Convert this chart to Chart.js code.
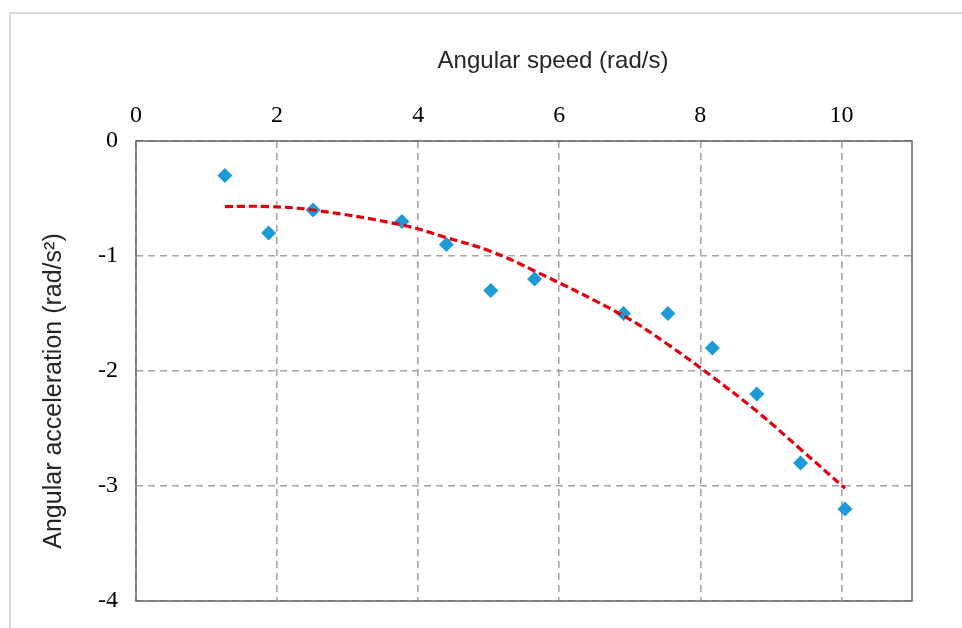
<!DOCTYPE html>
<html>
<head>
<meta charset="utf-8">
<script src="https://cdn.jsdelivr.net/npm/chart.js@4.4.1/dist/chart.umd.min.js"></script>
<style>
    html, body { margin: 0; padding: 0; background: #fff; }
</style>
</head>
<body>
<canvas id="accelChart" width="962" height="628"></canvas>
<script>
// values
const speedValues = [1.26, 1.88, 2.51, 3.77, 4.40, 5.03, 5.65, 6.91, 7.54, 8.17, 8.80, 9.42, 10.05];
const accelValues = [-0.3, -0.8, -0.6, -0.7, -0.9, -1.3, -1.2, -1.5, -1.5, -1.8, -2.2, -2.8, -3.2];
// red dashed trend line, read at the same speeds
const trendValues = [-0.57, -0.57, -0.60, -0.73, -0.84, -0.96, -1.13, -1.52, -1.77, -2.05, -2.35, -2.68, -3.02];

const xTicks = [0, 2, 4, 6, 8, 10];
const yTicks = [0, -1, -2, -3, -4];

const xTitle = 'Angular speed (rad/s)';
const yTitle = 'Angular acceleration (rad/s²)';

const gridColor = '#a6a6a6';
const tickFont = { family: 'Liberation Serif', size: 24 };

const framePlugin = {
    id: 'frame',
    beforeDraw(chart) {
        const ctx = chart.ctx;
        ctx.save();
        ctx.fillStyle = '#fff';
        ctx.fillRect(0, 0, chart.width, chart.height);
        // outer chart border (only top and left are visible)
        ctx.strokeStyle = '#d9d9d9';
        ctx.lineWidth = 2;
        ctx.beginPath();
        ctx.moveTo(10, chart.height);
        ctx.lineTo(10, 13);
        ctx.lineTo(chart.width, 13);
        ctx.stroke();
        ctx.restore();
    },
    beforeDatasetsDraw(chart) {
        const { left, top, right, bottom } = chart.chartArea;
        const ctx = chart.ctx;
        ctx.save();
        ctx.strokeStyle = '#666';
        ctx.lineWidth = 1.5;
        ctx.strokeRect(left, top, right - left, bottom - top);
        ctx.restore();
    },
    afterDraw(chart) {
        const ctx = chart.ctx;
        ctx.save();
        ctx.fillStyle = '#262626';
        ctx.textAlign = 'center';
        ctx.textBaseline = 'alphabetic';
        ctx.font = '24px "Liberation Sans"';
        ctx.fillText(xTitle, 553, 68);
        ctx.font = '25px "Liberation Sans"';
        ctx.translate(61, 391);
        ctx.rotate(-Math.PI / 2);
        ctx.fillText(yTitle, 0, 0);
        ctx.restore();
    }
};

function noEdgePadding(scale) {
    scale.paddingTop = 0;
    scale.paddingBottom = 0;
    scale.paddingLeft = 0;
    scale.paddingRight = 0;
}

function initializeChart() {
    const ctx = document.getElementById('accelChart').getContext('2d');

    new Chart(ctx, {
        type: 'scatter',
        data: {
            datasets: [{
                label: 'Trend',
                data: speedValues.map((s, i) => ({ x: s, y: trendValues[i] })),
                showLine: true,
                borderColor: '#e2000f',
                borderWidth: 3.2,
                borderDash: [8, 4],
                pointRadius: 0,
                tension: 0.4,
                fill: false,
                order: 0
            }, {
                label: 'Measured',
                data: speedValues.map((s, i) => ({ x: s, y: accelValues[i] })),
                pointStyle: 'rectRot',
                pointRadius: 7.5,
                pointBorderWidth: 0,
                backgroundColor: '#1b9bd7',
                borderColor: '#1b9bd7',
                order: 1
            }]
        },
        options: {
            responsive: false,
            animation: false,
            layout: {
                padding: { left: 0, top: 0, right: 50, bottom: 27 }
            },
            plugins: {
                legend: { display: false },
                tooltip: { enabled: false }
            },
            scales: {
                x: {
                    type: 'linear',
                    position: 'top',
                    min: 0,
                    max: 11,
                    afterBuildTicks: axis => { axis.ticks = xTicks.map(v => ({ value: v })); },
                    afterFit: scale => { scale.height = 141; noEdgePadding(scale); },
                    ticks: {
                        font: tickFont,
                        color: '#000',
                        padding: 11,
                        maxRotation: 0
                    },
                    grid: {
                        color: gridColor,
                        lineWidth: 1.6,
                        drawTicks: false
                    },
                    border: { display: false, dash: [7, 5] }
                },
                y: {
                    type: 'linear',
                    min: -4,
                    max: 0,
                    afterBuildTicks: axis => { axis.ticks = yTicks.map(v => ({ value: v })); },
                    afterFit: scale => { scale.width = 136; noEdgePadding(scale); },
                    ticks: {
                        font: tickFont,
                        color: '#000',
                        padding: 18
                    },
                    grid: {
                        color: gridColor,
                        lineWidth: 1.6,
                        drawTicks: false
                    },
                    border: { display: false, dash: [7, 5] }
                }
            }
        },
        plugins: [framePlugin]
    });
}

document.addEventListener('DOMContentLoaded', initializeChart);
</script>
</body>
</html>
